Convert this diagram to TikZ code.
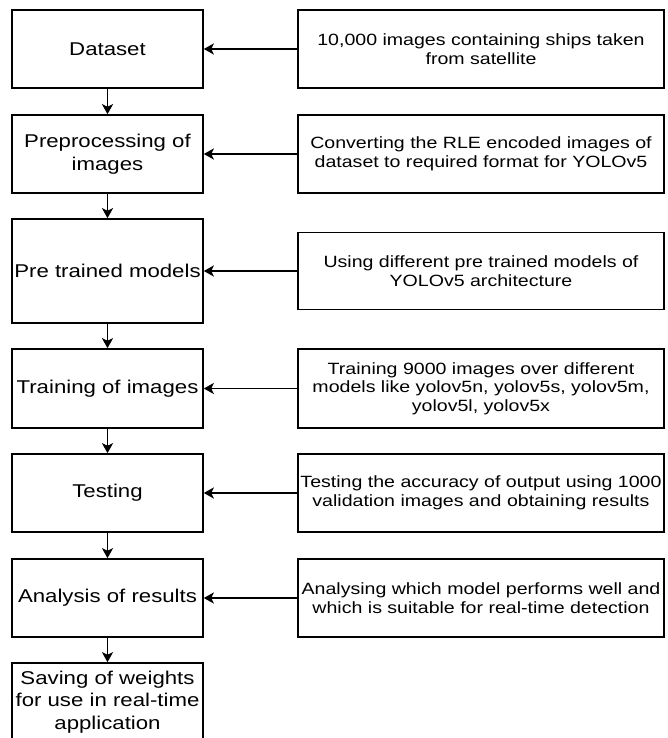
\documentclass[tikz,border=0pt]{standalone}
\usepackage{fontspec}
\setmainfont[FakeStretch=1.2]{Liberation Sans}
\usetikzlibrary{arrows.meta}

\begin{document}
\begin{tikzpicture}[x=1pt,y=-1pt,line width=1.6pt,
  step node/.style={rectangle,draw,align=center,inner sep=0pt,minimum width=191pt,minimum height=78pt,font=\fontsize{18.5}{22.5}\selectfont},
  info node/.style={rectangle,draw,align=center,inner sep=0pt,minimum width=366pt,minimum height=78pt,font=\fontsize{16.3}{18.5}\selectfont}]

  \useasboundingbox (0,0) rectangle (667,738);

  \node[step node] (0) at (107.5,49){Dataset};
  \node[step node] (1) at (107.5,154){Preprocessing of\\images};
  \node[step node,minimum height=104pt] (2) at (107.5,271){Pre trained models};
  \node[step node,minimum height=79pt] (3) at (107.5,388.5){Training of images};
  \node[step node] (4) at (107.5,493){Testing};
  \node[step node] (5) at (107.5,598){Analysis of results};
  \node[step node] (6) at (107.5,702){Saving of weights\\for use in real-time\\application};

  \node[info node] (7) at (481,49){10,000 images containing ships taken\\from satellite};
  \node[info node] (8) at (481,154){Converting the RLE encoded images of\\dataset to required format for YOLOv5};
  \node[info node,minimum height=77pt] (9) at (481,271){Using different pre trained models of\\YOLOv5 architecture};
  \node[info node,minimum height=79pt] (10) at (481,388.5){Training 9000 images over different\\models like yolov5n, yolov5s, yolov5m,\\yolov5l, yolov5x};
  \node[info node] (11) at (481,493){Testing the accuracy of output using 1000\\validation images and obtaining results};
  \node[info node] (12) at (481,598){Analysing which model performs well and\\which is suitable for real-time detection};

  \path[-{Stealth[length=10pt,width=11pt,inset=2.5pt]}]
    (0) edge (1)
    (1) edge (2)
    (2) edge (3)
    (3) edge (4)
    (4) edge (5)
    (5) edge (6)
    (7) edge (0)
    (8) edge (1)
    (9) edge (2)
    (10) edge (3)
    (11) edge (4)
    (12) edge (5);
\end{tikzpicture}
\end{document}
